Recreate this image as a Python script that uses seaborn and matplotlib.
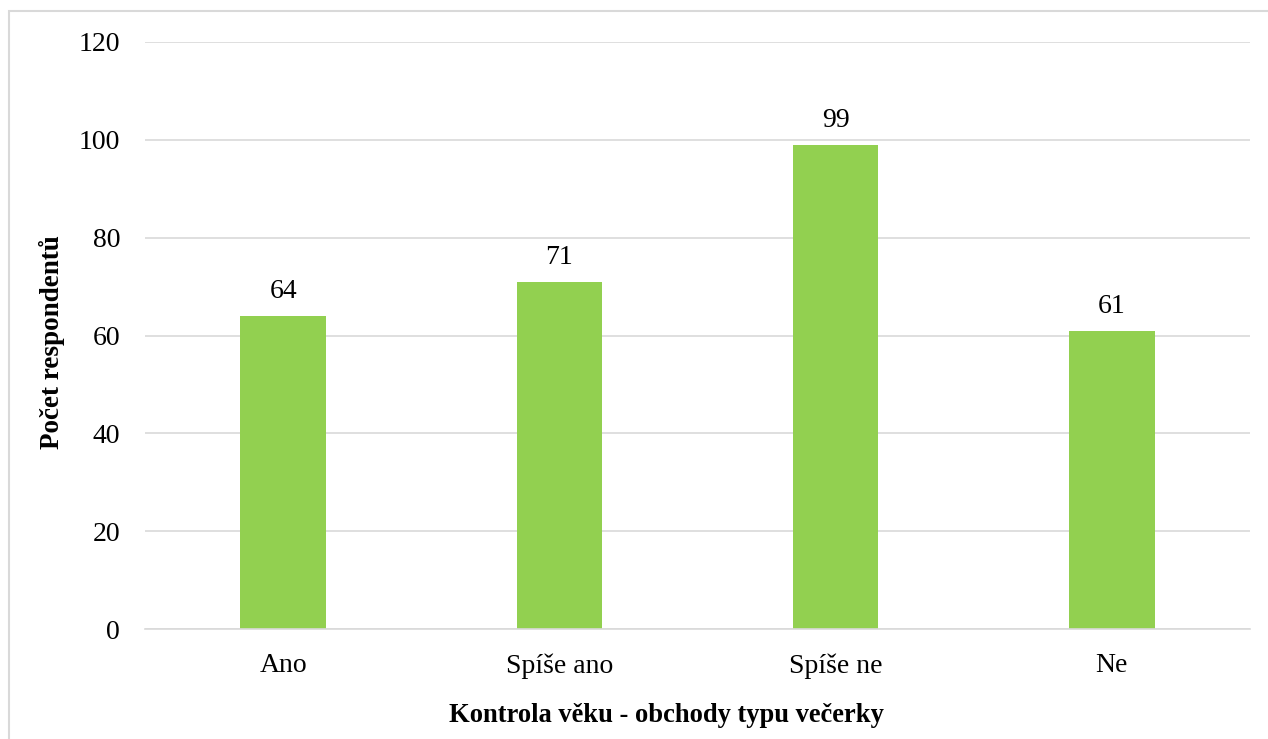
import matplotlib
matplotlib.use("Agg")
import matplotlib.pyplot as plt
import seaborn as sns
import pandas as pd
from matplotlib.patches import Rectangle

categories = ["Ano", "Spíše ano", "Spíše ne", "Ne"]
counts = [64, 71, 99, 61]
y_ticks = [0, 20, 40, 60, 80, 100, 120]

df = pd.DataFrame({"odpoved": categories, "pocet": counts})

sns.set_theme(style="white")
plt.rcParams["font.family"] = ["Liberation Serif", "DejaVu Serif"]
plt.rcParams["text.color"] = "black"

fig = plt.figure(figsize=(12.68, 7.39), dpi=100)
ax = fig.add_axes([0.1144, 0.1488, 0.8714, 0.7944])

sns.barplot(data=df, x="odpoved", y="pocet", color="#92D050",
            saturation=1, width=0.31, linewidth=0, ax=ax)

ax.set_ylim(0, 120)
ax.set_xlim(-0.5, 3.5)
ax.set_yticks(y_ticks)
ax.yaxis.grid(True, color="#D9D9D9", linewidth=1.2)
ax.set_axisbelow(True)
for side in ["top", "right", "left"]:
    ax.spines[side].set_visible(False)
ax.spines["bottom"].set_color("#D9D9D9")
ax.spines["bottom"].set_linewidth(1.2)
ax.tick_params(axis="both", length=0, labelsize=20, colors="black")
ax.tick_params(axis="y", pad=18)
ax.tick_params(axis="x", pad=17.5)

for i, v in enumerate(counts):
    ax.text(i, v + 2.4, str(v), ha="center", va="bottom", fontsize=20,
            color="black")

ax.set_xlabel("Kontrola věku - obchody typu večerky", fontsize=19.1,
              fontweight="bold", color="black")
ax.xaxis.set_label_coords(0.472, -0.148)
ax.xaxis.label.set_va("center")
ax.set_ylabel("Počet respondentů", fontsize=19.5, fontweight="bold",
              labelpad=10, color="black")
ax.yaxis.label.set_y(0.488)

fig.patches.append(Rectangle((9 / 1268, -0.05), 1.2, 1 - 11 / 739 + 0.05,
                             transform=fig.transFigure, fill=False,
                             edgecolor="#D9D9D9", linewidth=1.5))

fig.savefig("out.png", dpi=100, facecolor="white")
